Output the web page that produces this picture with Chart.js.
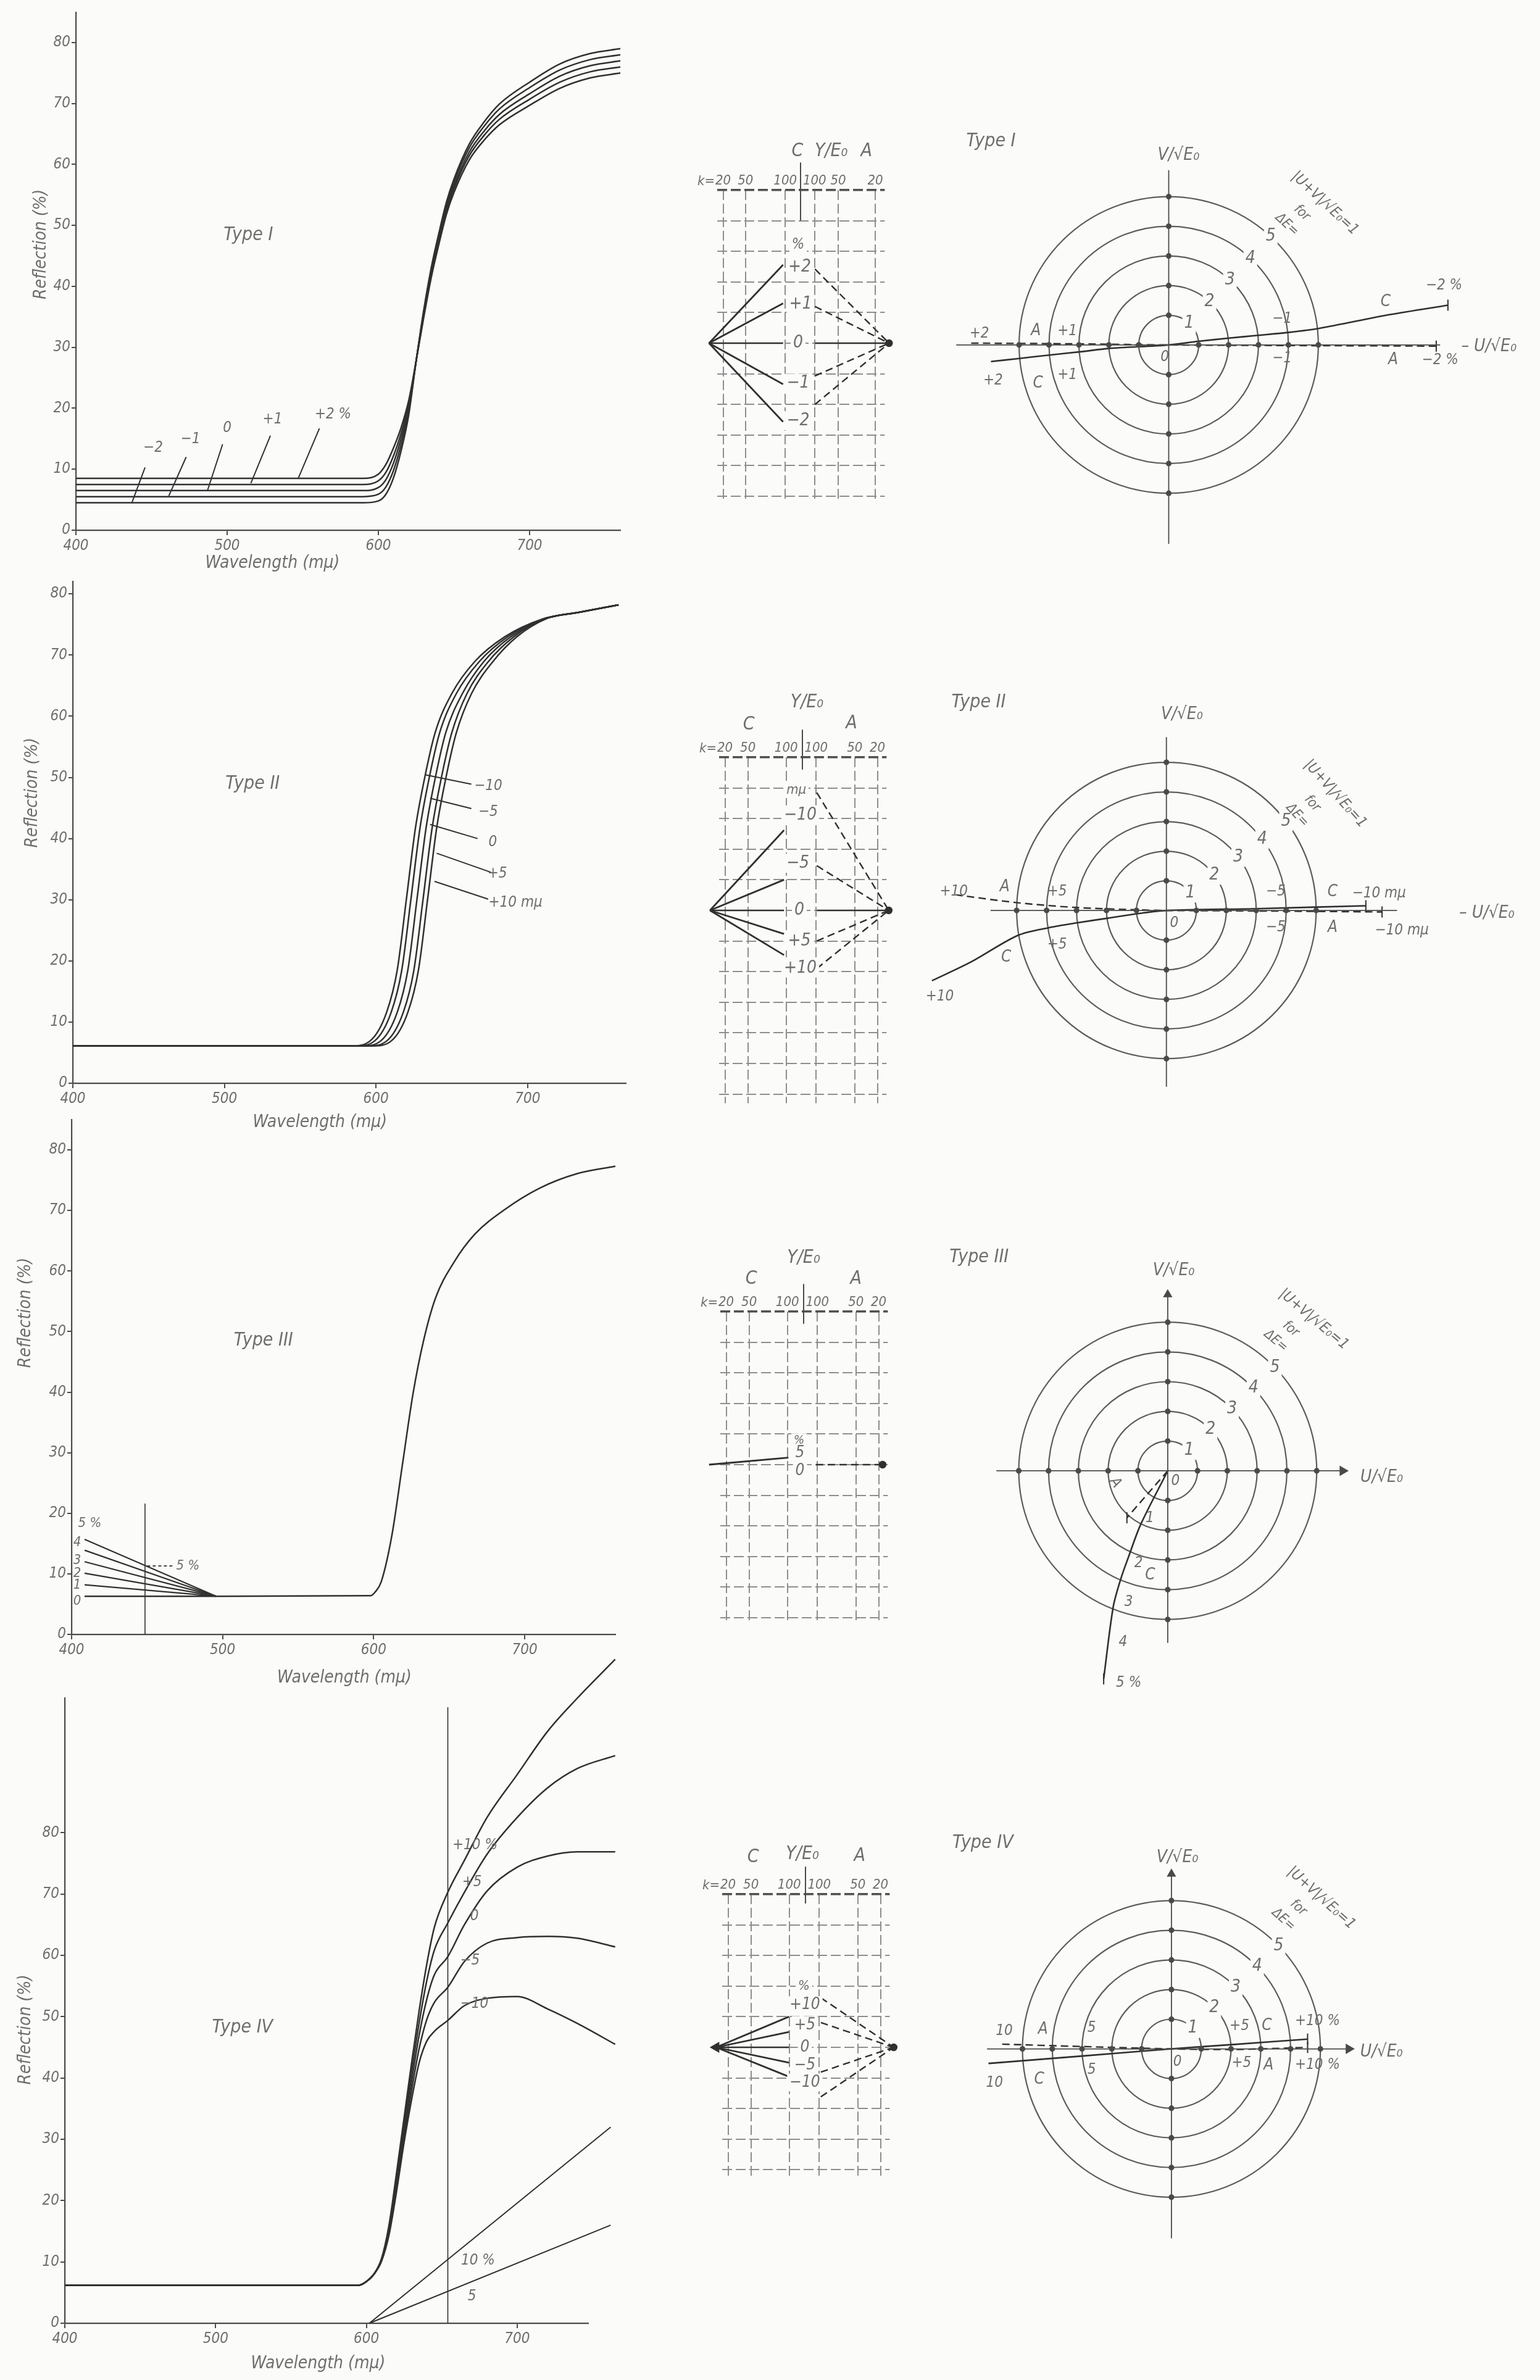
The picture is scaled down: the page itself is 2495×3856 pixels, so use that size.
<!DOCTYPE html>
<html lang="en">
<head>
<meta charset="utf-8">
<title>Reflection curves, Types I–IV</title>
<script src="https://cdn.jsdelivr.net/npm/chart.js@4.4.1/dist/chart.umd.min.js"></script>
<style>
  html, body { margin: 0; padding: 0; background: #fbfbf9; }
  body { position: relative; width: 2495px; height: 3856px; overflow: hidden; }
  canvas { position: absolute; }
</style>
</head>
<body>
<canvas id="reflI"></canvas>
<canvas id="reflII"></canvas>
<canvas id="reflIII"></canvas>
<canvas id="reflIV"></canvas>
<canvas id="gridI"></canvas>
<canvas id="gridII"></canvas>
<canvas id="gridIII"></canvas>
<canvas id="gridIV"></canvas>
<canvas id="polarI"></canvas>
<canvas id="polarII"></canvas>
<canvas id="polarIII"></canvas>
<canvas id="polarIV"></canvas>
<script>
// ---------- reflection curves: wavelength (mμ) / reflection (%) ----------
const wlTicks = [400, 500, 600, 700];
const reflTicks = [0, 10, 20, 30, 40, 50, 60, 70, 80];

// Type I : low level shifted by -2 ... +2 %
const wlI = [400, 590, 600, 605, 610, 615, 620, 625, 630, 635, 640, 645, 650, 660, 670, 680, 700, 720, 740, 760];
const reflIm2 = [4.5, 4.5, 4.8, 5.9, 8.6, 13.0, 18.8, 27.8, 36.1, 43.1, 48.7, 53.8, 57.6, 63.3, 67.0, 69.9, 73.5, 76.5, 78.2, 79.0];
const reflIm1 = [5.5, 5.5, 5.9, 7.1, 9.8, 14.0, 19.4, 27.8, 35.8, 42.7, 48.3, 53.3, 57.1, 62.7, 66.3, 69.1, 72.6, 75.5, 77.2, 78.0];
const reflI0 = [6.5, 6.5, 7.0, 8.3, 11.0, 15.0, 20.0, 27.8, 35.5, 42.3, 47.8, 52.8, 56.5, 62.0, 65.5, 68.2, 71.6, 74.5, 76.2, 77.0];
const reflIp1 = [7.5, 7.5, 8.1, 9.5, 12.2, 15.9, 20.6, 27.8, 35.2, 41.9, 47.4, 52.3, 56.0, 61.4, 64.8, 67.4, 70.7, 73.5, 75.2, 76.0];
const reflIp2 = [8.5, 8.5, 9.2, 10.8, 13.5, 16.8, 21.2, 27.8, 34.9, 41.5, 46.9, 51.8, 55.4, 60.7, 64.0, 66.5, 69.7, 72.5, 74.2, 75.0];
// leader lines of the labels  [x1, y1, x2, y2]
const leadI = [[437, 4.5, 445.7, 10.3], [461.4, 5.6, 472.9, 12], [487, 6.5, 497, 14.1], [515.7, 7.7, 528.6, 15.5], [547, 8.5, 561, 16.7]];

// Type II : curve shifted by -10 ... +10 mμ
const reflII = [6.1, 6.1, 6.9, 11.6, 18.5, 30.0, 41.7, 49.8, 57.3, 63.7, 68.9, 73.0, 75.9, 77.0, 78.2];
const wlIIm10 = [400, 584, 596, 607, 614, 620, 626, 632, 639, 650, 665, 685, 710, 734, 760];
const wlIIm5 = [400, 587, 599, 610, 617, 623, 629, 635, 642, 653, 668, 687, 710, 734, 760];
const wlII0 = [400, 591, 603, 614, 621, 627, 633, 639, 646, 657, 671, 689, 711, 734, 760];
const wlIIp5 = [400, 595, 607, 618, 625, 631, 637, 643, 650, 660, 674, 691, 711, 734, 760];
const wlIIp10 = [400, 598, 610, 621, 628, 634, 640, 646, 653, 663, 677, 693, 712, 734, 760];
const leadII = [[632.9, 50.4, 662.9, 48.9], [635.7, 46.6, 662.9, 44.9], [635.7, 42.3, 667, 40], [640, 37.6, 675.7, 34.5], [638.6, 33, 674, 30.1]];

// Type III : extra reflection 0 ... 5 % in the blue
const wlIII = [408.6, 495.7, 598, 601, 605, 612, 619, 626, 633, 641, 653, 667, 687, 710, 735, 760];
const reflIII = [6.3, 6.3, 6.4, 7.0, 8.7, 16.3, 28.0, 39.7, 48.5, 55.6, 61.4, 66.1, 70.2, 73.7, 76.1, 77.3];
const fanWlIII = [408.6, 495.7];
const fanStartIII = [8.2, 10.1, 12.0, 13.9, 15.7];
const fanEndIII = 6.3;
const markWlIII = [448.6, 448.6];
const markReflIII = [0, 21.6];

// Type IV : red reflection scaled by -10 ... +10 %
const wlIV = [400, 595, 600, 605, 610, 615, 620, 625, 630, 635, 640, 645, 654, 665, 680, 700, 720, 740, 765];
const reflIVp10 = [6.2, 6.2, 6.8, 8.0, 10.5, 16.0, 24.5, 33.5, 42.5, 51.0, 58.5, 64.5, 70.3, 75.5, 82.5, 89.5, 96.5, 102.0, 108.3];
const reflIVp5 = [6.2, 6.2, 6.8, 8.0, 10.4, 15.6, 23.8, 32.5, 41.0, 49.0, 55.8, 60.8, 65.3, 70.3, 76.5, 82.5, 87.3, 90.5, 92.6];
const reflIV0 = [6.2, 6.2, 6.8, 8.0, 10.3, 15.2, 23.0, 31.5, 39.5, 47.0, 52.8, 56.8, 59.8, 65.0, 70.5, 74.4, 76.2, 76.9, 76.9];
const reflIVm5 = [6.2, 6.2, 6.8, 8.0, 10.2, 14.8, 22.3, 30.5, 38.0, 44.8, 49.5, 52.3, 54.8, 59.0, 62.0, 62.9, 63.1, 62.8, 61.4];
const reflIVm10 = [6.2, 6.2, 6.8, 8.0, 10.1, 14.4, 21.5, 29.5, 36.5, 42.5, 46.0, 47.6, 49.4, 51.8, 53.0, 53.3, 51.3, 48.9, 45.5];
const wlIVlow = [602, 762];
const lowIV10 = [0, 32];
const lowIV5 = [0, 16];
const markWlIV = [654, 654];
const markReflIV = [0, 100.5];

// ---------- Y/E0 grids (k columns, rows) ----------
const colLabels = ["20", "50", "100", "100", "50", "20"];
const gridColsI = [-2.53, -1.8, -0.5, 0.46, 1.23, 2.44];
const gridCols = [-2.53, -1.78, -0.53, 0.45, 1.71, 2.45];
const rowsI = [-5, -4, -3, -2, -1, 0, 1, 2, 3, 4, 5];
const rowsII = [-6, -5, -4, -3, -2, -1, 0, 1, 2, 3, 4, 5];
const rowsIII = [-5, -4, -3, -2, -1, 0, 1, 2, 3, 4, 5];
const rowsIV = [-4, -3, -2, -1, 0, 1, 2, 3, 4, 5];
// end values of the fans: C side (solid), A side (dashed)
const fanIC = [2.56, 1.3, -1.34, -2.57];
const fanIA = [2.42, 1.2, -1.07, -2.0];
const fanIIC = [2.62, 1.0, -0.77, -1.46];
const fanIIA = [3.85, 1.46, -1.0, -1.9];
const fanIIIC = [0.23];
const fanIIIA = [0];
const fanIVC = [1.0, 0.5, -0.5, -0.96];
const fanIVA = [1.62, 0.81, -0.81, -1.62];

// ---------- U/√E0 , V/√E0 diagrams ----------
const ringRadii = [1, 2, 3, 4, 5];
const polarIC = [[-5.94, -0.56], [-5.03, -0.46], [-3.98, -0.34], [-2.94, -0.23], [-2.02, -0.12], [0, 0], [0.98, 0.12], [2.02, 0.23], [2.94, 0.32], [3.98, 0.42], [5.03, 0.56], [7.38, 1.02], [9.33, 1.34]];
const polarIA = [[-6.6, 0.06], [-3.4, 0.04], [0, 0], [4.0, -0.02], [8.94, -0.04]];
const polarIIC = [[-7.83, -2.37], [-6.53, -1.74], [-4.96, -0.84], [-3.92, -0.58], [-3.0, -0.42], [-1.96, -0.26], [-0.91, -0.1], [0, 0], [3.0, 0.06], [6.66, 0.16]];
const polarIIA = [[-7.05, 0.53], [-4.96, 0.26], [-3.0, 0.1], [-0.9, 0.02], [0, 0], [3.5, -0.02], [7.2, -0.05]];
const polarIIIC = [[0, 0], [-0.91, -1.81], [-1.31, -2.88], [-1.57, -3.62], [-1.83, -4.58], [-2.15, -7.0]];
const polarIIIA = [[0, 0], [-1.37, -1.58]];
const polarIVC = [[-6.14, -0.49], [-3.0, -0.24], [0, 0], [2.1, 0.15], [4.57, 0.33]];
const polarIVA = [[-5.68, 0.16], [-3.0, 0.08], [0, 0], [2.1, -0.02], [4.57, 0.05]];

// ---------- look ----------
const PAPER = "#fbfbf9";
const INK = "#303030";
const AXIS = "#4a4a4a";
const TEXT = "#6e6e6e";
const GRIDC = "#8e8e8e";
const RING = "#5c5c5c";
const FONT = "'Liberation Sans Narrow', 'DejaVu Sans Condensed', sans-serif";
const GU = 49.6;   // px per grid row
const PU = 49.6;   // px per unit in the U,V diagrams
const YW = 64;     // width kept for the y tick labels
const XH = 50;     // height kept for the x tick labels
const TH = 36;     // height kept for the k labels on top of the grids

Chart.defaults.font.family = FONT;
Chart.defaults.font.style = "italic";
Chart.defaults.color = TEXT;

const NOTES = {};
const RINGS = {};

// free text placed in data coordinates: [text, x, y, size, rotation, align, box]
const notesPlugin = {
  id: "notes",
  afterDraw(chart) {
    const items = NOTES[chart.canvas.id] || [];
    const ctx = chart.ctx;
    const sx = chart.scales.x;
    const sy = chart.scales.y;
    items.forEach(function (n) {
      const size = n[3] || 26;
      ctx.save();
      ctx.translate(sx.getPixelForValue(n[1]), sy.getPixelForValue(n[2]));
      if (n[4]) ctx.rotate(n[4] * Math.PI / 180);
      ctx.font = "italic " + size + "px " + FONT;
      ctx.textAlign = n[5] || "center";
      ctx.textBaseline = "middle";
      if (n[6]) {
        const w = ctx.measureText(n[0]).width + 8;
        ctx.fillStyle = PAPER;
        ctx.fillRect(-w / 2, -size * 0.55, w, size * 1.1);
      }
      ctx.fillStyle = TEXT;
      ctx.fillText(n[0], 0, 0);
      ctx.restore();
    });
  }
};

// concentric ΔE circles drawn through the chart's own scales
const ringsPlugin = {
  id: "rings",
  beforeDatasetsDraw(chart) {
    const spec = RINGS[chart.canvas.id];
    if (!spec) return;
    const ctx = chart.ctx;
    const sx = chart.scales.x;
    const sy = chart.scales.y;
    const cx = sx.getPixelForValue(0);
    const cy = sy.getPixelForValue(0);
    ctx.save();
    ctx.strokeStyle = RING;
    ctx.lineWidth = 2.2;
    ringRadii.forEach(function (r) {
      ctx.beginPath();
      ctx.ellipse(cx, cy, sx.getPixelForValue(r) - cx, cy - sy.getPixelForValue(r), 0, 0, Math.PI * 2);
      ctx.stroke();
    });
    const a = spec.angle * Math.PI / 180;
    ctx.font = "italic 28px " + FONT;
    ctx.textAlign = "center";
    ctx.textBaseline = "middle";
    ringRadii.forEach(function (r) {
      const px = sx.getPixelForValue(r * Math.cos(a));
      const py = sy.getPixelForValue(r * Math.sin(a));
      ctx.fillStyle = PAPER;
      ctx.fillRect(px - 11, py - 16, 22, 32);
      ctx.fillStyle = TEXT;
      ctx.fillText(String(r), px, py);
    });
    ctx.restore();
  }
};

function mount(id, box) {
  const cv = document.getElementById(id);
  cv.width = Math.round(box[2]);
  cv.height = Math.round(box[3]);
  cv.style.left = Math.round(box[0]) + "px";
  cv.style.top = Math.round(box[1]) + "px";
  cv.style.width = cv.width + "px";
  cv.style.height = cv.height + "px";
  return cv;
}

// padding so that the plotting area lands on `area` (page px), given the axis boxes
function padFor(cv, area, axes) {
  const l = parseFloat(cv.style.left);
  const t = parseFloat(cv.style.top);
  return {
    left: area[0] - l - (axes.left || 0),
    top: area[1] - t - (axes.top || 0),
    right: l + cv.width - area[2],
    bottom: t + cv.height - area[3] - (axes.bottom || 0)
  };
}

function curve(xs, ys, extra) {
  return Object.assign({
    data: xs.map(function (x, i) { return { x: x, y: ys[i] }; }),
    showLine: true,
    borderColor: INK,
    borderWidth: 2.5,
    pointRadius: 0,
    cubicInterpolationMode: "monotone",
    clip: false
  }, extra || {});
}

function path(pairs, extra) {
  return Object.assign({
    data: pairs.map(function (p) { return { x: p[0], y: p[1] }; }),
    showLine: true,
    borderColor: INK,
    borderWidth: 2.4,
    pointRadius: 0,
    tension: 0.3,
    clip: false
  }, extra || {});
}

function segs(list, extra) {
  return list.map(function (s) {
    return path([[s[0], s[1]], [s[2], s[3]]], Object.assign({ tension: 0, borderWidth: 2 }, extra || {}));
  });
}

function baseOptions(pad) {
  return {
    responsive: false,
    devicePixelRatio: 1,
    animation: false,
    events: [],
    layout: { padding: pad },
    plugins: { legend: { display: false }, tooltip: { enabled: false } }
  };
}

// ---------- left column: reflection curves ----------
function reflChart(id, box, area, xr, yr, datasets, notes) {
  const cv = mount(id, box);
  NOTES[id] = notes;
  const opts = baseOptions(padFor(cv, area, { left: YW, bottom: XH }));
  opts.scales = {
    x: {
      type: "linear", min: xr[0], max: xr[1],
      afterFit: function (s) { s.height = XH; },
      afterBuildTicks: function (s) { s.ticks = wlTicks.map(function (v) { return { value: v }; }); },
      grid: { drawOnChartArea: false, tickLength: 8, lineWidth: 2, color: AXIS },
      border: { color: AXIS, width: 2.2 },
      ticks: { color: TEXT, padding: 3, autoSkip: false, maxRotation: 0, font: { size: 24, style: "italic" } }
    },
    y: {
      type: "linear", min: yr[0], max: yr[1],
      afterFit: function (s) { s.width = YW; },
      afterBuildTicks: function (s) { s.ticks = reflTicks.map(function (v) { return { value: v }; }); },
      grid: { drawOnChartArea: false, tickLength: 7, lineWidth: 2, color: AXIS },
      border: { color: AXIS, width: 2.2 },
      ticks: { color: TEXT, padding: 2, autoSkip: false, font: { size: 24, style: "italic" } }
    }
  };
  return new Chart(cv, { type: "scatter", data: { datasets: datasets }, options: opts, plugins: [notesPlugin] });
}

reflChart("reflI", [0, 0, 1100, 960], [123, 19.6, 1005, 859], [400, 760], [0, 85],
  [
    curve(wlI, reflIm2), curve(wlI, reflIm1), curve(wlI, reflI0), curve(wlI, reflIp1), curve(wlI, reflIp2)
  ].concat(segs(leadI)),
  [
    ["Type I", 514, 48.4, 30],
    ["−2", 451, 13.5, 24], ["−1", 475.7, 14.9, 24], ["0", 500, 16.7, 24], ["+1", 530, 18.1, 24], ["+2 %", 570, 19.0, 24],
    ["Reflection (%)", 377, 46.9, 28, -90],
    ["Wavelength (mμ)", 530, -5.4, 28]
  ]);

reflChart("reflII", [0, 880, 1100, 980], [118, 942.4, 1014.4, 1755], [400, 765], [0, 82],
  [
    curve(wlIIm10, reflII), curve(wlIIm5, reflII), curve(wlII0, reflII), curve(wlIIp5, reflII), curve(wlIIp10, reflII)
  ].concat(segs(leadII)),
  [
    ["Type II", 518.6, 48.9, 30],
    ["−10", 674, 48.6, 24], ["−5", 674, 44.3, 24], ["0", 677, 39.4, 24], ["+5", 680, 34.2, 24], ["+10 mμ", 692, 29.5, 24],
    ["Reflection (%)", 373.5, 47.5, 28, -90],
    ["Wavelength (mμ)", 563, -6.4, 28]
  ]);

reflChart("reflIII", [0, 1760, 1100, 1000], [116, 1814, 997, 2648], [400, 760], [0, 85],
  [curve(wlIII, reflIII)]
    .concat(fanStartIII.map(function (v) { return curve(fanWlIII, [v, fanEndIII], { cubicInterpolationMode: "default", borderWidth: 2.2 }); }))
    .concat([
      curve(markWlIII, markReflIII, { cubicInterpolationMode: "default", borderWidth: 1.6 }),
      path([[450, 11.3], [468, 11.3]], { tension: 0, borderWidth: 1.6, borderDash: [5, 4] })
    ]),
  [
    ["Type III", 527, 48.5, 30],
    ["5 %", 412, 18.3, 22], ["4", 403.7, 15.2, 22], ["3", 403.7, 12.2, 22], ["2", 403.7, 10.1, 22], ["1", 403.7, 8.1, 22], ["0", 403.7, 5.5, 22],
    ["5 %", 477, 11.3, 22],
    ["Reflection (%)", 369.8, 53.1, 28, -90],
    ["Wavelength (mμ)", 580.6, -7.2, 28]
  ]);

reflChart("reflIV", [0, 2640, 1100, 1216], [105, 2751, 952.7, 3764], [400, 747], [0, 102],
  [
    curve(wlIV, reflIVp10), curve(wlIV, reflIVp5), curve(wlIV, reflIV0), curve(wlIV, reflIVm5), curve(wlIV, reflIVm10),
    curve(wlIVlow, lowIV10, { cubicInterpolationMode: "default", borderWidth: 2 }),
    curve(wlIVlow, lowIV5, { cubicInterpolationMode: "default", borderWidth: 2 }),
    curve(markWlIV, markReflIV, { cubicInterpolationMode: "default", borderWidth: 1.6 })
  ],
  [
    ["Type IV", 517.8, 48.2, 30],
    ["+10 %", 672, 78, 24], ["+5", 670, 71.9, 24], ["0", 671.6, 66.4, 24], ["−5", 668.7, 59.1, 24], ["−10", 671.6, 52.1, 24],
    ["10 %", 674, 10.2, 24], ["5", 670, 4.4, 24],
    ["Reflection (%)", 374.2, 47.9, 28, -90],
    ["Wavelength (mμ)", 568, -6.6, 28]
  ]);

// ---------- middle column: Y/E0 grids ----------
function gridChart(id, cx, cy, cols, rows, ymin, g, fanC, fanA, notes) {
  const box = [cx - 200, cy - 7.4 * GU, 400, (7.4 - ymin) * GU + 30];
  const area = [cx - 2.72 * GU, cy - 5 * GU, cx + 2.75 * GU, cy - ymin * GU];
  const cv = mount(id, box);
  NOTES[id] = notes;
  const sets = [];
  fanC.forEach(function (v) {
    sets.push(path([[g.apexC, 0], [g.endC, v]], { tension: 0, borderWidth: 2.8 }));
  });
  fanA.forEach(function (v) {
    sets.push(path([[g.startA, v], [g.apexA, 0]], { tension: 0, borderWidth: 2.4, borderDash: [12, 7] }));
  });
  if (g.zeroC) sets.push(path([[g.apexC, 0], [g.endC, 0]], { tension: 0, borderWidth: 2.4 }));
  if (g.zeroA) sets.push(path([[g.startA, 0], [g.apexA, 0]], { tension: 0, borderWidth: 2.4 }));
  sets.push(path([[0, g.stem], [0, 5.9]], {
    tension: 0, borderWidth: 2, borderColor: AXIS,
    pointRadius: function (c) { return c.dataIndex === 1 ? 6 : 0; },
    pointStyle: "triangle", pointBackgroundColor: AXIS, pointBorderColor: AXIS
  }));
  sets.push(path([[g.apexC, 0]], { showLine: false, pointRadius: 8, pointStyle: "triangle", rotation: 270, pointBackgroundColor: INK, pointBorderColor: INK }));
  sets.push(path([[g.apexA, 0]], { showLine: false, pointRadius: 5, pointBackgroundColor: INK, pointBorderColor: INK }));

  const opts = baseOptions(padFor(cv, area, { top: TH }));
  opts.scales = {
    x: {
      type: "linear", position: "top", min: -2.72, max: 2.75,
      afterFit: function (s) { s.height = TH; },
      afterBuildTicks: function (s) { s.ticks = cols.map(function (v) { return { value: v }; }); },
      grid: { color: GRIDC, lineWidth: 2, drawTicks: false },
      border: { display: false, dash: [16, 6] },
      ticks: {
        color: TEXT, padding: 2, autoSkip: false, maxRotation: 0, font: { size: 22, style: "italic" },
        callback: function (v, i) { return colLabels[i]; }
      }
    },
    y: {
      type: "linear", min: ymin, max: 5,
      afterFit: function (s) { s.width = 0; },
      afterBuildTicks: function (s) { s.ticks = rows.map(function (v) { return { value: v }; }); },
      grid: {
        drawTicks: false,
        color: function (c) { return c.tick && c.tick.value === 5 ? "#505050" : GRIDC; },
        lineWidth: function (c) { return c.tick && c.tick.value === 5 ? 3.4 : 2; }
      },
      border: { display: false, dash: [16, 6] },
      ticks: { display: false }
    }
  };
  return new Chart(cv, { type: "scatter", data: { datasets: sets }, options: opts, plugins: [notesPlugin] });
}

gridChart("gridI", 1297, 556, gridColsI, rowsI, -5.1,
  { apexC: -2.99, endC: -0.57, startA: 0.47, apexA: 2.89, zeroC: true, zeroA: true, stem: 4.0 },
  fanIC, fanIA,
  [
    ["k=", -2.8, 5.28, 22, 0, "right"],
    ["C", -0.1, 6.26, 30], ["Y/E₀", 1.0, 6.26, 30], ["A", 2.15, 6.26, 30],
    ["%", -0.08, 3.22, 24, 0, "center", true], ["+2", -0.03, 2.49, 28, 0, "center", true], ["+1", 0, 1.27, 28, 0, "center", true],
    ["0", -0.08, 0, 28, 0, "center", true], ["−1", -0.08, -1.31, 28, 0, "center", true], ["−2", -0.08, -2.53, 28, 0, "center", true]
  ]);

gridChart("gridII", 1300, 1475, gridCols, rowsII, -6.3,
  { apexC: -3.02, endC: -0.6, startA: 0.47, apexA: 2.82, zeroC: true, zeroA: true, stem: 4.6 },
  fanIIC, fanIIA,
  [
    ["k=", -2.8, 5.28, 22, 0, "right"],
    ["Y/E₀", 0.15, 6.8, 30], ["C", -1.75, 6.06, 30], ["A", 1.6, 6.1, 30],
    ["mμ", -0.2, 3.92, 22, 0, "center", true], ["−10", -0.07, 3.12, 28, 0, "center", true], ["−5", -0.15, 1.54, 28, 0, "center", true],
    ["0", -0.1, 0, 28, 0, "center", true], ["+5", -0.1, -1.0, 28, 0, "center", true], ["+10", -0.07, -1.88, 28, 0, "center", true]
  ]);

gridChart("gridIII", 1302, 2373, gridCols, rowsIII, -5.2,
  { apexC: -3.09, endC: -0.5, startA: 0.4, apexA: 2.58, zeroC: false, zeroA: false, stem: 4.6 },
  fanIIIC, fanIIIA,
  [
    ["k=", -2.8, 5.28, 22, 0, "right"],
    ["Y/E₀", 0, 6.75, 30], ["C", -1.71, 6.07, 30], ["A", 1.71, 6.07, 30],
    ["%", -0.15, 0.8, 20, 0, "center", true], ["5", -0.12, 0.38, 26, 0, "center", true], ["0", -0.12, -0.2, 26, 0, "center", true]
  ]);

gridChart("gridIV", 1305, 3317, gridCols, rowsIV, -4.3,
  { apexC: -2.92, endC: -0.54, startA: 0.5, apexA: 2.88, zeroC: true, zeroA: false, stem: 4.7 },
  fanIVC, fanIVA,
  [
    ["k=", -2.8, 5.28, 22, 0, "right"],
    ["C", -1.71, 6.2, 30], ["Y/E₀", -0.1, 6.3, 30], ["A", 1.77, 6.24, 30],
    ["%", -0.05, 2.0, 22, 0, "center", true], ["+10", -0.02, 1.38, 26, 0, "center", true], ["+5", -0.02, 0.73, 26, 0, "center", true],
    ["0", -0.02, 0, 26, 0, "center", true], ["−5", -0.02, -0.58, 26, 0, "center", true], ["−10", -0.02, -1.15, 26, 0, "center", true]
  ]);

// ---------- right column: U/√E0 , V/√E0 diagrams ----------
const ringDots = ringRadii.reduce(function (acc, r) {
  return acc.concat([[r, 0], [-r, 0], [0, r], [0, -r]]);
}, []);

function polarChart(id, cx, cy, xr, yr, angle, ax, C, A, notes) {
  const box = [cx + xr[0] * PU, cy - yr[1] * PU, (xr[1] - xr[0]) * PU, (yr[1] - yr[0]) * PU];
  const cv = mount(id, box);
  NOTES[id] = notes;
  RINGS[id] = { angle: angle };
  const endTick = function (c) { return c.dataIndex === c.dataset.data.length - 1 ? 9 : 0; };
  const sets = [
    path([[ax.u[0], 0], [ax.u[1], 0]], {
      tension: 0, borderWidth: 1.8, borderColor: AXIS,
      pointRadius: function (c) { return ax.arrow && c.dataIndex === 1 ? 8 : 0; },
      pointStyle: "triangle", rotation: 90, pointBackgroundColor: AXIS, pointBorderColor: AXIS
    }),
    path([[0, ax.v[0]], [0, ax.v[1]]], {
      tension: 0, borderWidth: 1.8, borderColor: AXIS,
      pointRadius: function (c) { return ax.arrow && c.dataIndex === 1 ? 7 : 0; },
      pointStyle: "triangle", pointBackgroundColor: AXIS, pointBorderColor: AXIS
    }),
    path(ringDots, { showLine: false, pointRadius: 3.4, pointBackgroundColor: AXIS, pointBorderColor: AXIS }),
    path(C, { borderWidth: 2.6, pointRadius: endTick, pointStyle: "line", rotation: 90, pointBorderColor: INK, pointBorderWidth: 2 }),
    path(A, { borderWidth: 2.4, borderDash: [12, 7], pointRadius: endTick, pointStyle: "line", rotation: 90, pointBorderColor: INK, pointBorderWidth: 2 })
  ];
  const opts = baseOptions(0);
  opts.scales = {
    x: { type: "linear", display: false, min: xr[0], max: xr[0] + cv.width / PU },
    y: { type: "linear", display: false, min: yr[1] - cv.height / PU, max: yr[1] }
  };
  return new Chart(cv, { type: "scatter", data: { datasets: sets }, options: opts, plugins: [ringsPlugin, notesPlugin] });
}

polarChart("polarI", 1891, 559, [-7.6, 12.1], [-7.0, 7.3], 47,
  { u: [-7.1, 9.07], v: [-6.71, 5.89], arrow: false }, polarIC, polarIA,
  [
    ["Type I", -5.94, 6.85, 30],
    ["V/√E₀", 0.33, 6.39, 28],
    ["– U/√E₀", 10.7, -0.05, 28],
    ["|U+V|/√E₀=1", 5.22, 4.77, 24, 43],
    ["for", 4.45, 4.45, 22, 43], ["ΔE=", 3.95, 4.05, 22, 43],
    ["+2", -6.33, 0.37, 24], ["A", -4.44, 0.46, 26], ["+1", -3.39, 0.46, 24],
    ["+2", -5.87, -1.2, 24], ["C", -4.37, -1.3, 26], ["+1", -3.39, -1.02, 24],
    ["0", -0.13, -0.42, 24],
    ["−1", 3.79, 0.88, 24], ["−1", 3.79, -0.46, 24],
    ["C", 7.25, 1.45, 26], ["−2 %", 9.2, 1.99, 24],
    ["A", 7.5, -0.51, 26], ["−2 %", 9.07, -0.51, 24]
  ]);

polarChart("polarII", 1888, 1476, [-8.3, 12.1], [-6.4, 7.5], 37,
  { u: [-5.87, 7.7], v: [-5.95, 5.85], arrow: false }, polarIIC, polarIIA,
  [
    ["Type II", -6.27, 7.01, 30],
    ["V/√E₀", 0.52, 6.6, 28],
    ["– U/√E₀", 10.7, -0.1, 28],
    ["|U+V|/√E₀=1", 5.64, 3.93, 24, 48],
    ["for", 4.87, 3.61, 22, 48], ["ΔE=", 4.37, 3.21, 22, 48],
    ["+10", -7.1, 0.63, 24], ["A", -5.4, 0.79, 26], ["+5", -3.65, 0.63, 24],
    ["−5", 3.65, 0.63, 24], ["C", 5.55, 0.63, 26], ["−10 mμ", 7.1, 0.58, 24],
    ["−5", 3.65, -0.58, 24], ["A", 5.55, -0.58, 26], ["−10 mμ", 7.86, -0.69, 24],
    ["C", -5.35, -1.58, 26], ["+5", -3.65, -1.16, 24], ["+10", -7.57, -2.9, 24],
    ["0", 0.26, -0.42, 24]
  ]);

polarChart("polarIII", 1891, 2383, [-7.6, 9.0], [-7.6, 7.6], 44,
  { u: [-5.75, 5.87], v: [-5.79, 5.93], arrow: true }, polarIIIC, polarIIIA,
  [
    ["Type III", -6.33, 7.18, 30],
    ["V/√E₀", 0.2, 6.73, 28],
    ["U/√E₀", 7.18, -0.23, 28],
    ["|U+V|/√E₀=1", 4.9, 5.09, 24, 40],
    ["for", 4.13, 4.77, 22, 40], ["ΔE=", 3.63, 4.37, 22, 40],
    ["0", 0.26, -0.34, 24],
    ["A", -1.76, -0.4, 24, 55],
    ["1", -0.6, -1.6, 24],
    ["2", -0.98, -3.11, 24], ["C", -0.59, -3.51, 26],
    ["3", -1.31, -4.41, 24], ["4", -1.5, -5.77, 24], ["5 %", -1.31, -7.13, 24]
  ]);

polarChart("polarIV", 1897, 3320, [-7.6, 9.0], [-6.8, 7.4], 44,
  { u: [-6.19, 5.95], v: [-6.39, 5.9], arrow: true }, polarIVC, polarIVA,
  [
    ["Type IV", -6.33, 6.94, 30],
    ["V/√E₀", 0.2, 6.45, 28],
    ["U/√E₀", 7.05, -0.11, 28],
    ["|U+V|/√E₀=1", 5.03, 5.08, 24, 42],
    ["for", 4.26, 4.76, 22, 42], ["ΔE=", 3.76, 4.36, 22, 42],
    ["10", -5.61, 0.6, 24], ["A", -4.31, 0.66, 26], ["5", -2.68, 0.71, 24],
    ["10", -5.94, -1.15, 24], ["C", -4.44, -1.04, 26], ["5", -2.68, -0.71, 24],
    ["0", 0.2, -0.44, 24],
    ["+5", 2.28, 0.77, 24], ["C", 3.2, 0.77, 26], ["+10 %", 4.9, 0.93, 24],
    ["+5", 2.35, -0.49, 24], ["A", 3.26, -0.55, 26], ["+10 %", 4.9, -0.55, 24]
  ]);
</script>
</body>
</html>
